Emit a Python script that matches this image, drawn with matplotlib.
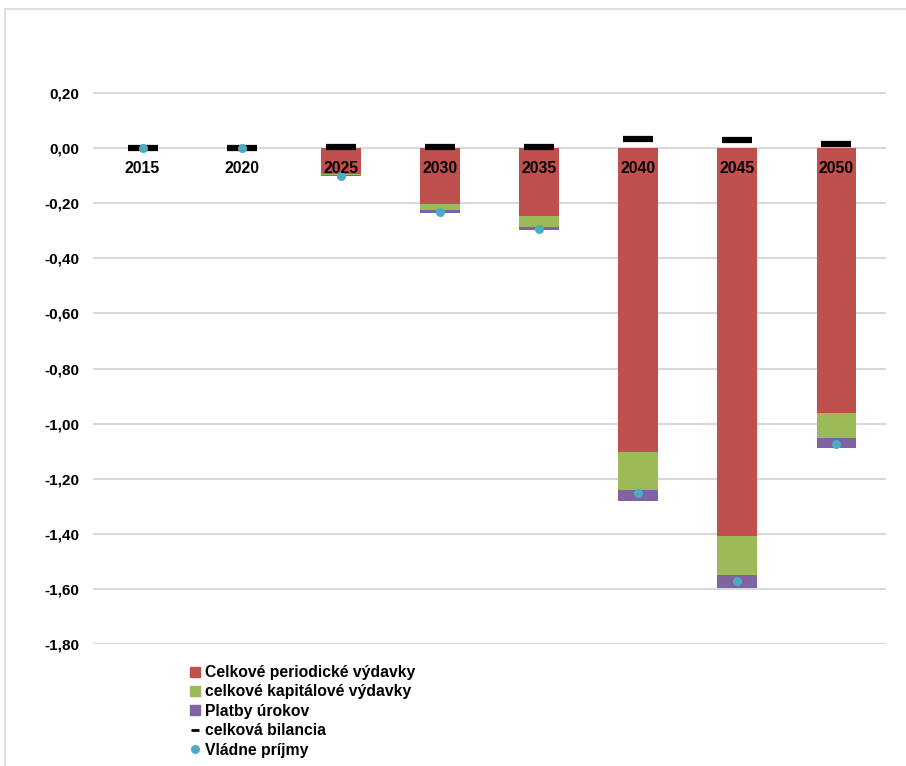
import matplotlib
matplotlib.use("Agg")
import matplotlib.pyplot as plt
from matplotlib.patches import Rectangle
from matplotlib.lines import Line2D
from matplotlib.ticker import FuncFormatter
import numpy as np

years = ["2015", "2020", "2025", "2030", "2035", "2040", "2045", "2050"]
periodicke = [0.0, 0.0, -0.094, -0.203, -0.247, -1.103, -1.408, -0.962]
kapitalove = [0.0, 0.0, -0.004, -0.022, -0.040, -0.138, -0.142, -0.091]
uroky = [0.0, 0.0, -0.003, -0.010, -0.010, -0.039, -0.046, -0.035]
bilancia = [0.0, 0.0, 0.006, 0.006, 0.006, 0.034, 0.030, 0.015]
prijmy = [0.0, 0.0, -0.100, -0.232, -0.295, -1.253, -1.572, -1.073]

labels = ["Celkové periodické výdavky", "celkové kapitálové výdavky",
          "Platby úrokov", "celková bilancia", "Vládne príjmy"]
colors = ["#C0504D", "#9BBB59", "#8064A2", "#000000", "#4BACC6"]

plt.rcParams['font.family'] = ['Liberation Sans', 'DejaVu Sans']

W, H = 906, 766
fig = plt.figure(figsize=(W / 100, H / 100), dpi=100)
ax = fig.add_axes([93 / W, 1 - 644 / H, (886 - 93) / W, (644 - 38) / H])

x = np.arange(len(years))
p = np.array(periodicke)
k = np.array(kapitalove)
u = np.array(uroky)
bw = 0.4
ax.bar(x, p, width=bw, color=colors[0], zorder=2)
ax.bar(x, k, width=bw, bottom=p, color=colors[1], zorder=2)
ax.bar(x, u, width=bw, bottom=p + k, color=colors[2], zorder=2)
ax.plot(x, bilancia, linestyle='none', marker='_', markersize=22,
        markeredgewidth=4.5, color=colors[3], zorder=3)
ax.plot(x, prijmy, linestyle='none', marker='o', markersize=6.5,
        markeredgewidth=0, color=colors[4], zorder=4)

ax.set_xlim(-0.5, len(years) - 0.5)
ax.set_ylim(-1.8, 0.4)
yt = np.round(np.arange(-1.8, 0.21, 0.2), 2)
ax.set_yticks(yt)
ax.yaxis.set_major_formatter(FuncFormatter(lambda v, pos: f"{v:.2f}".replace(".", ",").replace("-0,00", "0,00")))
for t in yt:
    ax.axhline(t, color="#D9D9D9", linewidth=1.5, zorder=0)
ax.tick_params(axis='y', length=0, pad=10, labelsize=11)
for lab in ax.get_yticklabels():
    lab.set_fontweight('bold')
ax.set_xticks([])
for s in ax.spines.values():
    s.set_visible(False)

for i, yr in enumerate(years):
    ax.annotate(yr, xy=(i, 0), xytext=(0, -9.5), textcoords='offset points',
                ha='center', va='top', fontsize=11.3, fontweight='bold',
                color='black', zorder=5)

handles = [
    Line2D([], [], linestyle='none', marker='s', markersize=6.5, color=colors[0]),
    Line2D([], [], linestyle='none', marker='s', markersize=6.5, color=colors[1]),
    Line2D([], [], linestyle='none', marker='s', markersize=6.5, color=colors[2]),
    Line2D([], [], linestyle='none', marker='_', markersize=6, markeredgewidth=2, color=colors[3]),
    Line2D([], [], linestyle='none', marker='o', markersize=5.5, color=colors[4]),
]
leg = fig.legend(handles, labels, loc='upper left', bbox_to_anchor=(190 / W, 1 - 665 / H),
                 frameon=False, prop={'size': 11.3, 'weight': 'bold'},
                 handlelength=0.6, handletextpad=0.35, labelspacing=0.28,
                 borderpad=0, borderaxespad=0)

fig.patches.append(Rectangle((5 / W, -0.05), 1.1, 1 - 9 / H + 0.05, transform=fig.transFigure,
                             fill=False, edgecolor="#D9D9D9", linewidth=1.2))

fig.savefig("out.png", dpi=100)
